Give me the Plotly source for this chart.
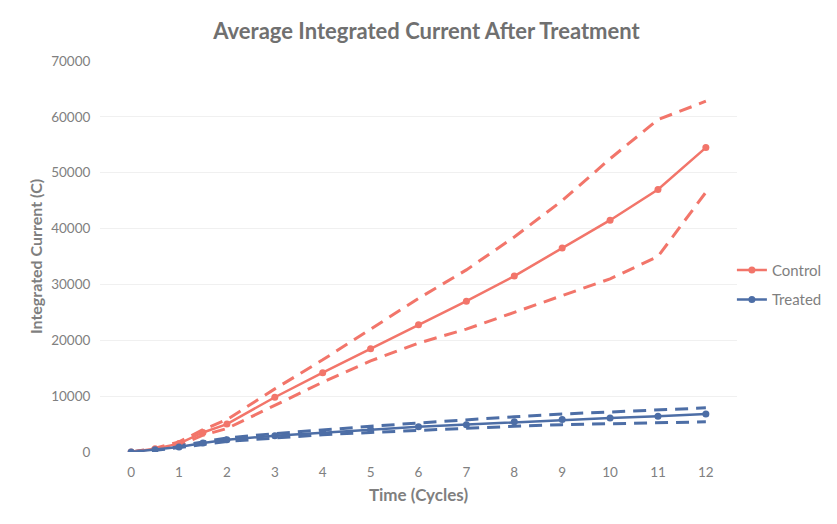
import plotly.graph_objects as go

time_cycles = [0, 0.5, 1, 1.5, 2, 3, 4, 5, 6, 7, 8, 9, 10, 11, 12]

control_mean = [0, 600, 1500, 3500, 5000, 9800, 14200, 18500, 22800, 27000, 31500, 36500, 41500, 47000, 54500]
control_upper = [0, 700, 1800, 4000, 5800, 11300, 16500, 22000, 27500, 32600, 38500, 45000, 52500, 59500, 62800]
control_lower = [0, 500, 1200, 3000, 4200, 8300, 12500, 16300, 19500, 22000, 25000, 28000, 31000, 35000, 46500]

treated_mean = [0, 400, 900, 1600, 2200, 2900, 3500, 4000, 4500, 4900, 5400, 5800, 6100, 6400, 6800]
treated_upper = [0, 500, 1100, 1800, 2500, 3300, 4000, 4600, 5200, 5800, 6300, 6800, 7200, 7600, 7900]
treated_lower = [0, 300, 800, 1300, 1900, 2500, 3100, 3500, 3900, 4300, 4600, 4900, 5100, 5300, 5400]

y_ticks = [0, 10000, 20000, 30000, 40000, 50000, 60000, 70000]
x_ticks = list(range(0, 13))

RED = "#F2756A"
BLUE = "#4D6EA6"
FONT = "Lato, Open Sans, sans-serif"

fig = go.Figure()

for ys in (control_upper, control_lower):
    fig.add_trace(go.Scatter(x=time_cycles, y=ys, mode="lines", showlegend=False,
                             line=dict(color=RED, width=3, dash="13px,8px"), hoverinfo="skip"))
for ys in (treated_upper, treated_lower):
    fig.add_trace(go.Scatter(x=time_cycles, y=ys, mode="lines", showlegend=False,
                             line=dict(color=BLUE, width=3, dash="13px,8px"), hoverinfo="skip"))

fig.add_trace(go.Scatter(x=time_cycles, y=control_mean, mode="lines+markers", name="Control",
                         legendgroup="c",
                         line=dict(color=RED, width=2.5), marker=dict(size=7, color=RED)))
fig.add_trace(go.Scatter(x=time_cycles, y=treated_mean, mode="lines+markers", name="Treated",
                         legendgroup="t",
                         line=dict(color=BLUE, width=2.5), marker=dict(size=7, color=BLUE)))

fig.update_layout(
    width=837, height=524,
    margin=dict(l=92, r=108, t=53, b=80),
    paper_bgcolor="white", plot_bgcolor="white",
    font=dict(family=FONT, color="#7f7f7f", size=13),
    title=dict(text="<b>Average Integrated Current After Treatment</b>", x=0.5, xanchor="center",
               y=0.956, yanchor="middle",
               font=dict(size=22, color="#707070", family=FONT)),
    legend=dict(x=0.992, y=0.507, xanchor="left", yanchor="top", bgcolor="rgba(0,0,0,0)",
                font=dict(size=15, color="#7f7f7f"), tracegroupgap=7, itemwidth=30),
    xaxis=dict(range=[-0.65, 12.65], tickvals=x_ticks, showgrid=False, zeroline=False,
               showline=False, ticks="outside", ticklen=8, tickcolor="rgba(0,0,0,0)",
               title=dict(text="<b>Time (Cycles)</b>", font=dict(size=17, color="#7f7f7f"),
               standoff=9), tickfont=dict(size=13.5, color="#808080")),
    yaxis=dict(range=[0, 70000], tickvals=y_ticks, showgrid=True, gridcolor="#f0f0f0", gridwidth=1,
               zeroline=False, showline=False, ticks="outside", ticklen=6, tickcolor="rgba(0,0,0,0)",
               tickformat="d",
               title=dict(text="<b>Integrated Current (C)</b>", font=dict(size=16, color="#7f7f7f"), standoff=4),
               tickfont=dict(size=13.5, color="#808080")),
)

fig.write_html("out.html")
